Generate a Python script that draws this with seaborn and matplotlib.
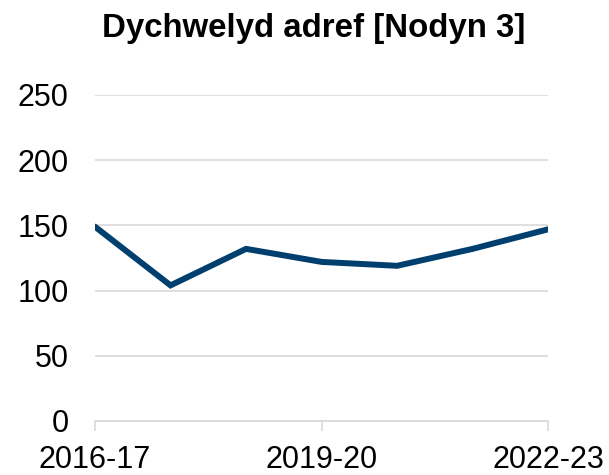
import matplotlib
matplotlib.use("Agg")
import matplotlib.pyplot as plt
import seaborn as sns
import pandas as pd

# Data
years = ["2016-17", "2017-18", "2018-19", "2019-20", "2020-21", "2021-22", "2022-23"]
values = [149, 104, 132, 122, 119, 132, 147]
shown_years = ["2016-17", "2019-20", "2022-23"]

df = pd.DataFrame({"pos": range(len(years)), "Year": years, "Value": values})

sns.set_theme(style="white")
plt.rcParams["font.family"] = ["Liberation Sans", "DejaVu Sans"]

fig = plt.figure(figsize=(6.09, 4.75), dpi=100)
ax = fig.add_axes([0.156, 0.1137, 0.744, 0.6863])

sns.lineplot(data=df, x="pos", y="Value", ax=ax, color="#003f6e",
             linewidth=4.3, solid_capstyle="round", solid_joinstyle="miter")

ax.set_xlim(0, len(years) - 1)
ax.set_ylim(0, 250)
ax.set_yticks(range(0, 251, 50))
ax.yaxis.grid(True, color="#d9d9d9", linewidth=1.2)
ax.set_axisbelow(True)

tick_pos = [years.index(y) for y in shown_years]
ax.set_xticks(tick_pos)
ax.set_xticklabels(shown_years)

for side in ["top", "right", "left"]:
    ax.spines[side].set_visible(False)
ax.spines["bottom"].set_color("#d9d9d9")
ax.spines["bottom"].set_linewidth(1.2)

ax.tick_params(axis="y", length=0, pad=19, labelsize=22, labelcolor="black")
ax.tick_params(axis="x", length=7, width=1.2, color="#d9d9d9", pad=10,
               labelsize=22, labelcolor="black", bottom=True)

ax.set_xlabel("")
ax.set_ylabel("")
ax.set_title("Dychwelyd adref [Nodyn 3]", fontsize=23.8, fontweight="bold",
             color="black", pad=42, x=0.483)

fig.savefig("out.png", dpi=100)
